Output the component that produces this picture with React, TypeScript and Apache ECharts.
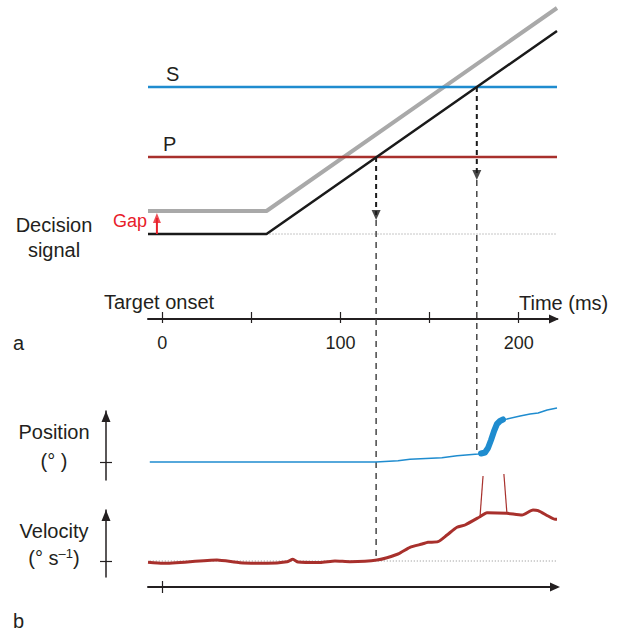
import React, { useEffect, useRef } from 'react';
import * as echarts from 'echarts';

// ---------- time axis (ms) ----------
const X_MIN = -8;
const X_MAX = 221.5;
const topTicks = [0, 50, 100, 150, 200];
const topLabels = [0, 100, 200];
const bottomTicks = [0];

// ---------- panel a: decision signal (arbitrary units) ----------
const signalTimes = [-8, 58.5, 221.5];
const blackSignal = [0, 0, 203];
const graySignal = [23, 23, 226];
const baselineTimes = [58.5, 221.5];
const thresholdS = 147;
const thresholdP = 77;
const gapTime = -3;
const gapValues = [0, 16];
const gapHead = 16;
const crossP = 120;
const crossS = 176.5;
const headP = 19; // arrowhead centre (signal units)
const headS = 59;
const tipP = 14;
const tipS = 54;
const dropP = -327; // where the guide line ends (velocity baseline)
const dropS = -221; // where the guide line ends (position trace)

// ---------- panel b: eye position ----------
const posTimes = [-7, 119.9, 132.3, 139.0, 156.9, 165.4, 177.2, 178.9];
const posValues = [0, 0, 1.3, 2.7, 4.3, 6.3, 8, 8.5];
const sacTimes = [178.9, 181.1, 182.8, 184.5, 186.2, 187.8, 189.5, 191.2];
const sacValues = [8.5, 9.5, 14, 22, 31, 38, 41, 42.5];
const postTimes = [191.2, 193.5, 200.8, 206.4, 210.9, 216.0, 221.5];
const postValues = [42.5, 43, 46, 48, 49, 52, 54];

// ---------- panel b: eye velocity ----------
const velTimes = [-8, 0.4, 30.7, 43.6, 58.8, 70, 73.3, 76.2, 88.6, 96.9, 105.3, 120.5, 132.3, 139, 145.8, 149.1, 154.7, 159.8, 165.4, 169.9, 178.3, 182.2, 193.4, 201.9, 208, 210.9, 216.5, 220.4, 221.5];
const velValues = [-1.3, -2.3, 1, -1.7, -2.3, -0.7, 1.7, -1, -1.5, 0, -0.7, 1, 7, 13.7, 17, 18.7, 19.3, 26, 33.7, 36, 44.3, 48.3, 47.7, 46, 51, 50.3, 45, 41.7, 41.7];
const spike1Times = [178.3, 180];
const spike1Values = [44.3, 85];
const spike2Times = [193.4, 191.7];
const spike2Values = [47.7, 87];

const FONT = '"Liberation Sans", Arial, Helvetica, sans-serif';
const INK = '#231f20';
const BLUE = '#1f8ccf';
const DARKRED = '#a8302c';
const RED = '#e8202a';
const GRAY = '#a9a9a9';

const pair = (xs: number[], ys: number[]) => xs.map((x, i) => [x, ys[i]]);

export default function App() {
  const ref = useRef<HTMLDivElement>(null);

  useEffect(() => {
    document.body.style.margin = '0';
    const chart = echarts.init(ref.current!, null, { renderer: 'svg' });

    const xBase: any = { type: 'value', min: X_MIN, max: X_MAX, splitLine: { show: false } };
    const gridBase = { left: 148, width: 409 };

    const line = (data: number[][], xi: number, yi: number, color: string, width: number, extra: any = {}) => ({
      type: 'line',
      xAxisIndex: xi,
      yAxisIndex: yi,
      data,
      symbol: 'none',
      clip: false,
      silent: true,
      lineStyle: { color, width, cap: 'butt', ...(extra.lineStyle || {}) },
      ...extra.rest,
    });

    const text = (t: string, x: number, y: number, style: any = {}) => ({
      type: 'text',
      x,
      y,
      z: 100,
      style: {
        text: t,
        fontSize: 20,
        fontFamily: FONT,
        fill: INK,
        align: 'center',
        verticalAlign: 'middle',
        ...style,
      },
    });

    const mainLine = (width: number, size: number[], off: number) => ({
      show: true,
      onZero: false,
      lineStyle: { color: INK, width },
      symbol: ['none', 'triangle'],
      symbolSize: size,
      symbolOffset: [0, off],
    });
    const noLine = { show: false, onZero: false };
    const tick = (inside: boolean, length: number, values: number[]) => ({
      show: true, inside, length, lineStyle: { color: INK, width: 1.2 }, customValues: values,
    });

    const option: any = {
      animation: false,
      grid: [
        { ...gridBase, top: 5, height: 314 },
        { ...gridBase, top: 411, height: 69 },
        { ...gridBase, top: 510, height: 67 },
      ],
      xAxis: [
        {
          ...xBase, gridIndex: 0, position: 'bottom',
          axisLine: mainLine(2, [9, 10], -3),
          axisTick: tick(true, 7, topTicks),
          axisLabel: { show: false },
        },
        {
          ...xBase, gridIndex: 0, position: 'bottom',
          axisLine: noLine,
          axisTick: tick(false, 4, topTicks),
          axisLabel: { show: true, customValues: topLabels, margin: 15, fontSize: 18, color: INK, fontFamily: FONT },
        },
        { ...xBase, gridIndex: 1, show: false },
        {
          ...xBase, gridIndex: 2, position: 'bottom', offset: 10,
          axisLine: mainLine(2, [9, 10], -2),
          axisTick: tick(true, 6, bottomTicks),
          axisLabel: { show: false },
        },
        {
          ...xBase, gridIndex: 2, position: 'bottom', offset: 10,
          axisLine: noLine,
          axisTick: tick(false, 6, bottomTicks),
          axisLabel: { show: false },
        },
      ],
      yAxis: [
        { type: 'value', gridIndex: 0, min: -85, max: 229, show: false },
        {
          type: 'value', gridIndex: 1, min: -18, max: 51, position: 'left', offset: 42,
          splitLine: { show: false },
          axisLine: mainLine(1.5, [9, 11], -5.5),
          axisTick: tick(true, 6, [0]),
          axisLabel: { show: false },
        },
        {
          type: 'value', gridIndex: 1, min: -18, max: 51, position: 'left', offset: 42,
          splitLine: { show: false },
          axisLine: noLine,
          axisTick: tick(false, 6, [0]),
          axisLabel: { show: false },
        },
        {
          type: 'value', gridIndex: 2, min: -16, max: 51, position: 'left', offset: 42,
          splitLine: { show: false },
          axisLine: mainLine(1.5, [9, 11], -5.5),
          axisTick: tick(true, 6, [0]),
          axisLabel: { show: false },
        },
        {
          type: 'value', gridIndex: 2, min: -16, max: 51, position: 'left', offset: 42,
          splitLine: { show: false },
          axisLine: noLine,
          axisTick: tick(false, 6, [0]),
          axisLabel: { show: false },
        },
      ],
      series: [
        // panel a
        line(pair(baselineTimes, [0, 0]), 0, 0, '#8c8c8c', 1, { lineStyle: { type: [1, 2] } }),
        line(pair(signalTimes, graySignal), 0, 0, GRAY, 4),
        line([[X_MIN, thresholdS], [X_MAX, thresholdS]], 0, 0, BLUE, 2.5),
        line([[X_MIN, thresholdP], [X_MAX, thresholdP]], 0, 0, DARKRED, 2.5),
        line(pair(signalTimes, blackSignal), 0, 0, '#1a1a1a', 2.5),
        line(pair([gapTime, gapTime], gapValues), 0, 0, RED, 2),
        line([[crossP, thresholdP], [crossP, headP]], 0, 0, '#1a1a1a', 2, { lineStyle: { type: [5, 4] } }),
        line([[crossS, thresholdS], [crossS, headS]], 0, 0, '#1a1a1a', 2, { lineStyle: { type: [5, 4] } }),
        line([[crossP, tipP], [crossP, dropP]], 0, 0, '#3a3a3a', 1.4, { lineStyle: { type: [6, 5] } }),
        line([[crossS, tipS], [crossS, dropS]], 0, 0, '#3a3a3a', 1.4, { lineStyle: { type: [6, 5] } }),
        {
          type: 'scatter', xAxisIndex: 0, yAxisIndex: 0, silent: true,
          symbol: 'triangle', symbolRotate: 180, symbolSize: [9, 10],
          itemStyle: { color: '#1a1a1a' },
          data: [[crossP, headP], [crossS, headS]],
        },
        {
          type: 'scatter', xAxisIndex: 0, yAxisIndex: 0, silent: true,
          symbol: 'triangle', symbolSize: [8, 10],
          itemStyle: { color: RED },
          data: [[gapTime, gapHead]],
        },
        // position
        line(pair(posTimes, posValues), 2, 1, BLUE, 1.5),
        line(pair(postTimes, postValues), 2, 1, BLUE, 1.5),
        line(pair(sacTimes, sacValues), 2, 1, BLUE, 6, { lineStyle: { cap: 'round', join: 'round' } }),
        // velocity
        line([[X_MIN + 1, 0], [X_MAX, 0]], 3, 3, '#8c8c8c', 1, { lineStyle: { type: [1, 2] } }),
        line(pair(spike1Times, spike1Values), 3, 3, DARKRED, 1.2),
        line(pair(spike2Times, spike2Values), 3, 3, DARKRED, 1.2),
        line(pair(velTimes, velValues), 3, 3, DARKRED, 3, { lineStyle: { join: 'round' }, rest: { smooth: 0.2 } }),
      ],
      graphic: [
        text('S', 166, 74, { align: 'left' }),
        text('P', 163, 144, { align: 'left' }),
        text('Gap', 147, 221, { align: 'right', fill: RED, fontSize: 18 }),
        text('Decision', 54, 225),
        text('signal', 54, 250),
        text('Target onset', 104, 302, { align: 'left' }),
        text('Time (ms)', 519, 303, { align: 'left' }),
        text('a', 13, 343, { align: 'left' }),
        text('Position', 54, 432),
        text('(° )', 54, 461),
        text('Velocity', 54, 531),
        text('(° s{sup|–1})', 54, 558, {
          lineHeight: 22,
          rich: { sup: { fontSize: 13, fontFamily: FONT, fill: INK, verticalAlign: 'top', lineHeight: 14 } },
        }),
        text('b', 13, 621, { align: 'left' }),
      ],
    };

    chart.setOption(option);
    return () => chart.dispose();
  }, []);

  return <div ref={ref} style={{ width: 619, height: 633 }} />;
}
